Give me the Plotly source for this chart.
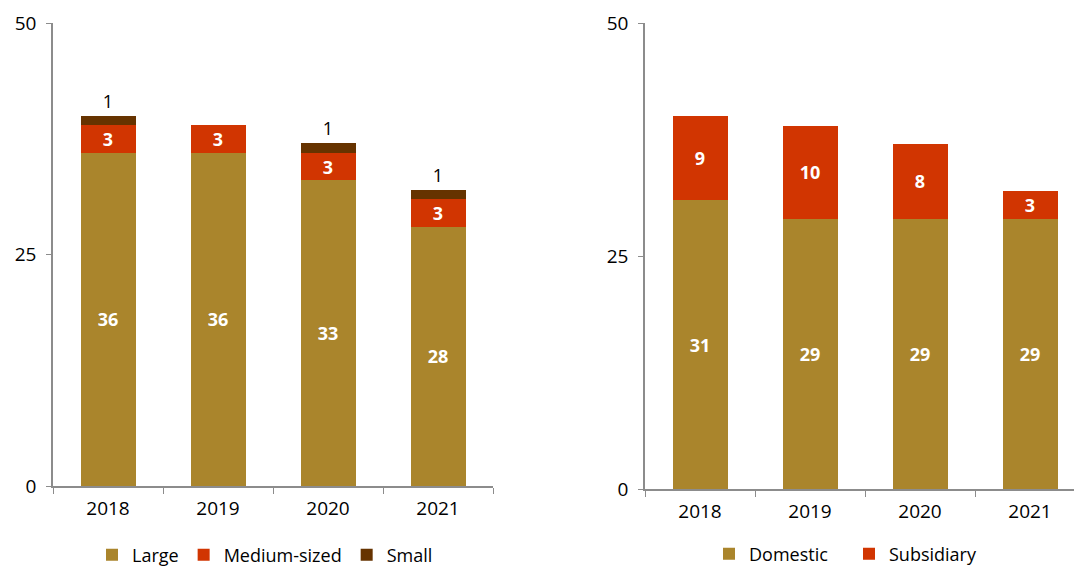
import plotly.graph_objects as go

years = ["2018", "2019", "2020", "2021"]

# Left panel: by company size
large = [36, 36, 33, 28]
medium = [3, 3, 3, 3]
small = [1, None, 1, 1]

# Right panel: by ownership
domestic = [31, 29, 29, 29]
subsidiary = [9, 10, 8, 3]

y_ticks = [0, 25, 50]

GOLD = "#AA852C"
RED = "#D13501"
BROWN = "#663300"
AXIS = "#8C8C8C"
FONT = "Open Sans"

W, H = 1074, 567

fig = go.Figure()

inside_font = dict(family=FONT, size=18, color="white")
bar_common = dict(textangle=0, constraintext="none", width=0.5,
                  marker_line_width=0)

fig.add_trace(go.Bar(x=years, y=large, name="Large", marker_color=GOLD,
                     text=large, textposition="inside", insidetextanchor="middle",
                     textfont=inside_font, texttemplate="<b>%{text}</b>",
                     xaxis="x", yaxis="y", legend="legend", **bar_common))
fig.add_trace(go.Bar(x=years, y=medium, name="Medium-sized", marker_color=RED,
                     text=medium, textposition="inside", insidetextanchor="middle",
                     textfont=inside_font, texttemplate="<b>%{text}</b>",
                     xaxis="x", yaxis="y", legend="legend", **bar_common))
fig.add_trace(go.Bar(x=years, y=small, name="Small", marker_color=BROWN,
                     text=small, textposition="outside",
                     textfont=dict(family=FONT, size=18, color="black"),
                     texttemplate="%{text}", cliponaxis=False,
                     xaxis="x", yaxis="y", legend="legend", **bar_common))

fig.add_trace(go.Bar(x=years, y=domestic, name="Domestic", marker_color=GOLD,
                     text=domestic, textposition="inside", insidetextanchor="middle",
                     textfont=inside_font, texttemplate="<b>%{text}</b>",
                     xaxis="x2", yaxis="y2", legend="legend2", **bar_common))
fig.add_trace(go.Bar(x=years, y=subsidiary, name="Subsidiary", marker_color=RED,
                     text=subsidiary, textposition="inside", insidetextanchor="middle",
                     textfont=inside_font, texttemplate="<b>%{text}</b>",
                     xaxis="x2", yaxis="y2", legend="legend2", **bar_common))

tick_font = dict(family=FONT, size=19, color="black")

xcommon = dict(type="category", showline=True, linecolor=AXIS, linewidth=1.5,
               ticks="outside", tickson="boundaries", ticklen=6, tickcolor=AXIS,
               tickfont=tick_font, showgrid=False, zeroline=False, fixedrange=True,
               ticklabelstandoff=4)
ycommon = dict(range=[0, 50], tickvals=y_ticks, showline=True, linecolor=AXIS,
               linewidth=1.5, ticks="outside", ticklen=5, tickcolor=AXIS,
               tickfont=tick_font, showgrid=False, zeroline=False, ticklabelstandoff=6)

legend_font = dict(family=FONT, size=18, color="black")

fig.update_layout(
    width=W, height=H,
    margin=dict(l=0, r=0, t=0, b=0, autoexpand=False),
    paper_bgcolor="white", plot_bgcolor="white",
    barmode="stack",
    xaxis=dict(domain=[53 / W, 493 / W], range=[-0.5, 3.5], anchor="y", **xcommon),
    yaxis=dict(domain=[1 - 486 / H, 1 - 23 / H], anchor="x", **ycommon),
    xaxis2=dict(domain=[645 / W, 1.0], range=[-0.5, 3.4], anchor="y2", **xcommon),
    yaxis2=dict(domain=[1 - 489 / H, 1 - 23 / H], anchor="x2", **ycommon),
    legend=dict(orientation="h", traceorder="normal", x=92 / W, xanchor="left",
                y=1 - 555 / H, yanchor="middle", font=legend_font,
                itemclick=False, bgcolor="rgba(0,0,0,0)", itemwidth=30),
    legend2=dict(orientation="h", traceorder="normal", x=709 / W, xanchor="left",
                 y=1 - 554 / H, yanchor="middle", font=legend_font,
                 entrywidth=95, itemwidth=30, itemclick=False,
                 bgcolor="rgba(0,0,0,0)"),
    showlegend=True,
)

fig.write_html("out.html")
